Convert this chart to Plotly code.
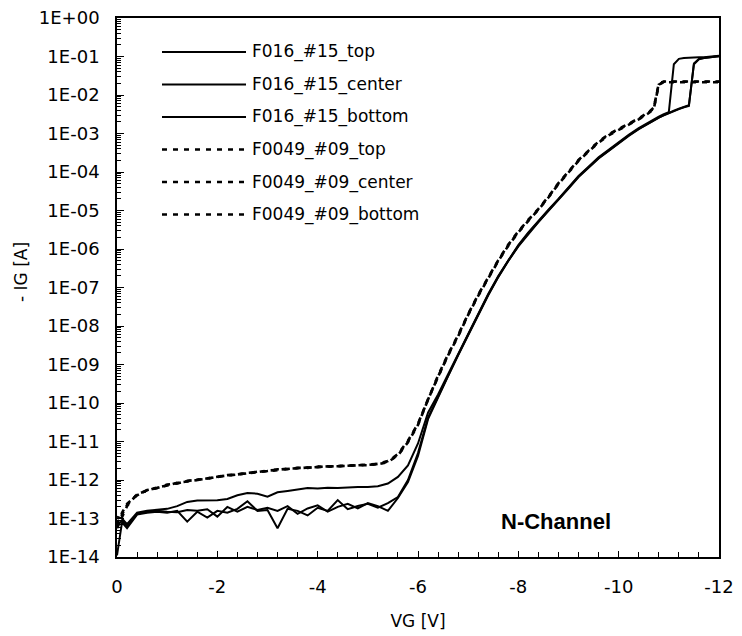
import plotly.graph_objects as go

# ---------------- data ----------------
VG = [0, -0.1, -0.2, -0.4, -0.6, -0.8, -1.0, -1.2, -1.4, -1.6, -1.8,
      -2.0, -2.2, -2.4, -2.6, -2.8, -3.0, -3.2, -3.4, -3.6, -3.8,
      -4.0, -4.2, -4.4, -4.6, -4.8, -5.0, -5.2, -5.4, -5.6, -5.8,
      -6.0, -6.2, -6.4, -6.6, -6.8, -7.0, -7.2, -7.4, -7.6, -7.8,
      -8.0, -8.2, -8.4, -8.6, -8.8, -9.0, -9.2, -9.4, -9.6, -9.8,
      -10.0, -10.2, -10.4, -10.6,
      -10.7, -10.8, -10.9, -11.0, -11.1, -11.2, -11.3, -11.4, -11.5, -11.6,
      -11.7, -11.8, -11.9, -12.0]

F016_15_top = [
    1.12e-13, 1.0e-13, 7.1e-14, 1.41e-13, 1.58e-13, 1.66e-13, 1.78e-13, 2.1e-13, 2.7e-13, 2.95e-13, 3.0e-13,
    3.0e-13, 3.2e-13, 4.0e-13, 4.6e-13, 4.4e-13, 3.7e-13, 4.8e-13, 5.2e-13, 5.75e-13, 6.2e-13,
    6.0e-13, 6.3e-13, 6.2e-13, 6.5e-13, 6.6e-13, 6.6e-13, 6.9e-13, 8.1e-13, 1.2e-12, 2.4e-12,
    8.9e-12, 5.6e-11, 1.66e-10, 5.6e-10, 1.9e-9, 6.3e-9, 2.14e-8, 6.8e-8, 2.0e-7, 5.2e-7,
    1.26e-6, 2.7e-6, 5.4e-6, 1.05e-5, 2.0e-5, 4.0e-5, 7.9e-5, 1.38e-4, 2.4e-4, 3.8e-4,
    6.0e-4, 9.3e-4, 1.38e-3, 2.0e-3,
    2.34e-3, 2.75e-3, 3.2e-3, 3.6e-3, 6.3e-2, 8.7e-2, 9.1e-2, 9.3e-2, 9.3e-2, 9.5e-2,
    9.5e-2, 9.8e-2, 1.0e-1, 1.05e-1]

F016_15_center = [
    1.1e-14, 7.9e-14, 5.6e-14, 1.26e-13, 1.41e-13, 1.5e-13, 1.41e-13, 1.58e-13, 8.3e-14, 1.5e-13, 1.05e-13,
    1.58e-13, 1.41e-13, 1.78e-13, 2.8e-13, 1.58e-13, 1.66e-13, 5.6e-14, 1.78e-13, 1.58e-13, 1.2e-13,
    1.9e-13, 1.58e-13, 3.0e-13, 1.74e-13, 2.1e-13, 2.4e-13, 1.9e-13, 2.5e-13, 3.6e-13, 1.0e-12,
    5.0e-12, 4.2e-11, 1.51e-10, 5.2e-10, 1.78e-9, 6.0e-9, 2.04e-8, 6.5e-8, 1.9e-7, 5.0e-7,
    1.2e-6, 2.6e-6, 5.1e-6, 1.0e-5, 1.9e-5, 3.8e-5, 7.6e-5, 1.32e-4, 2.3e-4, 3.6e-4,
    5.8e-4, 8.9e-4, 1.32e-3, 1.9e-3,
    2.24e-3, 2.6e-3, 3.0e-3, 3.5e-3, 3.9e-3, 4.4e-3, 4.9e-3, 5.4e-3, 6.3e-2, 8.5e-2,
    9.1e-2, 9.3e-2, 9.8e-2, 1.02e-1]

F016_15_bottom = [
    6.3e-14, 8.9e-14, 6.3e-14, 1.32e-13, 1.48e-13, 1.58e-13, 1.5e-13, 1.45e-13, 1.66e-13, 1.58e-13, 1.74e-13,
    1.12e-13, 2.0e-13, 1.5e-13, 2.0e-13, 1.66e-13, 1.9e-13, 1.58e-13, 2.1e-13, 1.32e-13, 1.82e-13,
    2.2e-13, 1.5e-13, 2.0e-13, 2.4e-13, 1.82e-13, 2.5e-13, 2.1e-13, 1.58e-13, 3.4e-13, 8.9e-13,
    4.2e-12, 3.8e-11, 1.45e-10, 5.0e-10, 1.74e-9, 5.9e-9, 2.0e-8, 6.3e-8, 1.86e-7, 4.9e-7,
    1.17e-6, 2.5e-6, 5.0e-6, 9.8e-6, 1.86e-5, 3.7e-5, 7.4e-5, 1.29e-4, 2.24e-4, 3.5e-4,
    5.6e-4, 8.7e-4, 1.29e-3, 1.86e-3,
    2.2e-3, 2.6e-3, 2.95e-3, 3.4e-3, 3.8e-3, 4.3e-3, 4.8e-3, 5.2e-3, 6.6e-2, 8.7e-2,
    9.1e-2, 9.5e-2, 1.0e-1, 1.02e-1]

F0049_09_top = [
    6.3e-14, 1.26e-13, 2.24e-13, 4.2e-13, 5.4e-13, 6.3e-13, 7.4e-13, 8.3e-13, 9.3e-13, 1.0e-12, 1.1e-12,
    1.2e-12, 1.32e-12, 1.41e-12, 1.51e-12, 1.62e-12, 1.74e-12, 1.86e-12, 1.95e-12, 2.04e-12, 2.09e-12,
    2.19e-12, 2.24e-12, 2.29e-12, 2.34e-12, 2.4e-12, 2.45e-12, 2.6e-12, 3.0e-12, 4.5e-12, 1.0e-11,
    2.8e-11, 1.26e-10, 5.0e-10, 1.78e-9, 5.6e-9, 2.0e-8, 6.3e-8, 1.78e-7, 5.0e-7, 1.26e-6,
    2.8e-6, 5.6e-6, 1.07e-5, 2.24e-5, 5.0e-5, 1.0e-4, 2.0e-4, 3.5e-4, 6.0e-4, 9.3e-4,
    1.26e-3, 1.74e-3, 2.4e-3, 3.5e-3,
    4.5e-3, 1.9e-2, 2.2e-2, 2.2e-2, 2.2e-2, 2.2e-2, 2.2e-2, 2.2e-2, 2.2e-2, 2.2e-2,
    2.2e-2, 2.2e-2, 2.2e-2, 2.2e-2]

F0049_09_center = [
    7.1e-14, 1.4e-13, 2.4e-13, 4.0e-13, 5.5e-13, 6.2e-13, 7.6e-13, 8.1e-13, 9.5e-13, 1.02e-12, 1.08e-12,
    1.22e-12, 1.3e-12, 1.43e-12, 1.49e-12, 1.65e-12, 1.72e-12, 1.9e-12, 1.93e-12, 2.07e-12, 2.07e-12,
    2.22e-12, 2.21e-12, 2.32e-12, 2.31e-12, 2.43e-12, 2.42e-12, 2.63e-12, 3.1e-12, 4.7e-12, 1.05e-11,
    2.9e-11, 1.3e-10, 5.2e-10, 1.84e-9, 5.8e-9, 2.06e-8, 6.5e-8, 1.83e-7, 5.15e-7, 1.3e-6,
    2.88e-6, 5.77e-6, 1.1e-5, 2.3e-5, 5.15e-5, 1.03e-4, 2.06e-4, 3.6e-4, 6.2e-4, 9.6e-4,
    1.3e-3, 1.79e-3, 2.47e-3, 3.6e-3,
    4.7e-3, 2.0e-2, 2.25e-2, 2.25e-2, 2.25e-2, 2.25e-2, 2.25e-2, 2.25e-2, 2.25e-2, 2.25e-2,
    2.25e-2, 2.25e-2, 2.25e-2, 2.25e-2]

F0049_09_bottom = [
    5.6e-14, 1.15e-13, 2.1e-13, 4.3e-13, 5.3e-13, 6.4e-13, 7.2e-13, 8.5e-13, 9.1e-13, 1.0e-12, 1.12e-12,
    1.18e-12, 1.34e-12, 1.39e-12, 1.53e-12, 1.6e-12, 1.76e-12, 1.83e-12, 1.97e-12, 2.02e-12, 2.11e-12,
    2.17e-12, 2.26e-12, 2.27e-12, 2.37e-12, 2.38e-12, 2.48e-12, 2.57e-12, 2.92e-12, 4.35e-12, 9.6e-12,
    2.7e-11, 1.22e-10, 4.85e-10, 1.73e-9, 5.4e-9, 1.94e-8, 6.1e-8, 1.73e-7, 4.85e-7, 1.22e-6,
    2.7e-6, 5.4e-6, 1.04e-5, 2.17e-5, 4.85e-5, 9.7e-5, 1.94e-4, 3.4e-4, 5.8e-4, 9.0e-4,
    1.22e-3, 1.69e-3, 2.33e-3, 3.4e-3,
    4.35e-3, 1.85e-2, 2.15e-2, 2.15e-2, 2.15e-2, 2.15e-2, 2.15e-2, 2.15e-2, 2.15e-2, 2.15e-2,
    2.15e-2, 2.15e-2, 2.15e-2, 2.15e-2]

SERIES_NAMES = ["F016_#15_top", "F016_#15_center", "F016_#15_bottom",
                "F0049_#09_top", "F0049_#09_center", "F0049_#09_bottom"]
SERIES_VALUES = [F016_15_top, F016_15_center, F016_15_bottom,
                 F0049_09_top, F0049_09_center, F0049_09_bottom]

X_TICKS = [0, -2, -4, -6, -8, -10, -12]
X_TICK_TEXT = ["0", "-2", "-4", "-6", "-8", "-10", "-12"]
Y_TICK_TEXT = ["1E+00", "1E-01", "1E-02", "1E-03", "1E-04", "1E-05", "1E-06", "1E-07",
               "1E-08", "1E-09", "1E-10", "1E-11", "1E-12", "1E-13", "1E-14"]

for v in SERIES_VALUES:
    assert len(v) == len(VG), len(v)

# ---------------- layout geometry ----------------
W, H = 742, 636
L, R, T, B = 117, 719, 18, 557


def px(x):
    return (x - L) / (R - L)


def py(y):
    return (B - y) / (B - T)


TICK_FONT = dict(family="DejaVu Sans", size=18, color="black")
DASH = "5px,6px"

fig = go.Figure()
for name, vals in zip(SERIES_NAMES, SERIES_VALUES):
    dashed = name.startswith("F0049")
    fig.add_trace(go.Scatter(
        x=VG, y=vals, mode="lines", name=name, showlegend=False,
        line=dict(color="black", width=2.6 if dashed else 2.0,
                  dash=DASH if dashed else "solid"),
    ))

# hand-drawn legend (long line samples like the original)
row_y = [52, 84.5, 117, 149.5, 182, 214.5]
for i, name in enumerate(SERIES_NAMES):
    dashed = name.startswith("F0049")
    fig.add_shape(type="line", xref="paper", yref="paper",
                  x0=px(162), x1=px(246), y0=py(row_y[i]), y1=py(row_y[i]),
                  line=dict(color="black", width=2.4 if dashed else 2.0,
                            dash=DASH if dashed else "solid"))
    fig.add_annotation(xref="paper", yref="paper", x=px(250), y=py(row_y[i]),
                       text=name, showarrow=False, xanchor="left", yanchor="middle",
                       font=dict(family="DejaVu Sans", size=17, color="black"))

fig.add_annotation(xref="paper", yref="paper", x=px(556), y=py(521),
                   text="<b>N-Channel</b>", showarrow=False,
                   xanchor="center", yanchor="middle",
                   font=dict(family="Liberation Sans, Arial", size=22, color="black"))

fig.add_annotation(xref="paper", yref="paper", x=px(21), y=py(272),
                   text="- IG [A]", textangle=-90, showarrow=False,
                   xanchor="center", yanchor="middle",
                   font=dict(family="DejaVu Sans", size=17, color="black"))

minor_y = [m * 10.0 ** (-d) for d in range(1, 15) for m in range(2, 10)]

fig.update_layout(
    width=W, height=H,
    margin=dict(l=L, r=W - R, t=T, b=H - B, pad=0, autoexpand=False),
    paper_bgcolor="white", plot_bgcolor="white",
    showlegend=False,
    xaxis=dict(
        range=[0, -12], tickmode="array", tickvals=X_TICKS, ticktext=X_TICK_TEXT,
        ticks="inside", ticklen=6, tickwidth=1.2, tickcolor="black",
        minor=dict(tickmode="linear", tick0=0, dtick=0.4, ticks="inside",
                   ticklen=5, tickwidth=1.2, tickcolor="black", showgrid=False),
        showline=True, linecolor="black", linewidth=1.6, mirror=True,
        showgrid=False, zeroline=False, tickfont=TICK_FONT,
        ticklabelstandoff=13, automargin=False,
        title=dict(text="VG [V]", standoff=19,
                   font=dict(family="DejaVu Sans", size=17, color="black")),
    ),
    yaxis=dict(
        type="log", range=[-14, 0], tickmode="array",
        tickvals=[10.0 ** (-k) for k in range(15)], ticktext=Y_TICK_TEXT,
        ticks="inside", ticklen=7, tickwidth=1.4, tickcolor="black",
        minor=dict(tickmode="array", tickvals=minor_y, ticks="inside",
                   ticklen=4, tickwidth=1, tickcolor="black", showgrid=False),
        showline=True, linecolor="black", linewidth=1.6, mirror=True,
        showgrid=False, zeroline=False, tickfont=TICK_FONT,
        ticklabelstandoff=12, automargin=False,
    ),
)

fig.write_html("out.html")
